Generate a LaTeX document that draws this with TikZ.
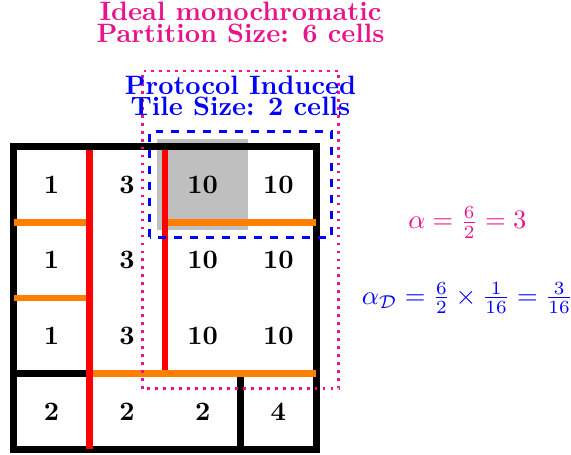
\documentclass[tikz,border=0pt]{standalone}
\usepackage{amsmath}
\usepackage{amssymb}
\usepackage{tikz}
\usetikzlibrary{positioning}
\usetikzlibrary{calc}
\definecolor{rosa}{RGB}{232,20,140}
\definecolor{arancio}{RGB}{255,128,0}

\begin{document}
\begin{tikzpicture}[
    bordo/.style={line width=2.7pt, black},
    taglio/.style={line width=2.5pt, red},
    giunto/.style={line width=2.5pt, arancio},
    cella/.style={font=\bfseries},
    titolo/.style={font=\bfseries, align=center, inner sep=0pt}]
    \useasboundingbox (-0.18,-0.07) rectangle (7.37,5.94);

    % Cella evidenziata
    \fill[gray!50] (1.9,2.9) rectangle (3.1,4.1);

    % Griglia
    \draw[bordo] (0,0) rectangle (4,4);
    \draw[bordo] (0,1) -- (4,1);
    \draw[bordo] (3,0) -- (3,1);

    % Linee arancioni
    \draw[giunto] (0,3) -- (1,3);
    \draw[giunto] (0,2) -- (1,2);
    \draw[giunto] (2,3) -- (4,3);
    \draw[giunto] (1,1) -- (4,1);

    % Linee rosse
    \draw[taglio] (1,0) -- (1,3.95);
    \draw[taglio] (2,1.05) -- (2,3.95);

    % Valori delle celle
    \foreach \y/\r in {3.5/1,2.5/2,1.5/3} {
      \node[cella] (c\r1) at (0.5,\y) {1};
      \node[cella] (c\r2) at (1.5,\y) {3};
      \node[cella] (c\r3) at (2.5,\y) {10};
      \node[cella] (c\r4) at (3.5,\y) {10};
    }
    \node[cella] (c41) at (0.5,0.5) {2};
    \node[cella] (c42) at (1.5,0.5) {2};
    \node[cella] (c43) at (2.5,0.5) {2};
    \node[cella] (c44) at (3.5,0.5) {4};

    % Riquadri
    \draw[blue, dashed, line width=1.2pt] (1.8,2.8) rectangle (4.2,4.2);
    \draw[rosa, dotted, line width=1pt] (1.7,0.8) rectangle (4.3,5.0);

    % Etichette
    \node[titolo, text=rosa] (ideale) at (3,5.64)
      {Ideal monochromatic\\[-3.9pt] Partition Size: 6 cells};
    \node[titolo, text=blue] (tile) at (3,4.67)
      {Protocol Induced\\[-3.9pt] Tile Size: 2 cells};
    \node[text=rosa] (alfa) at (6,3) {$\alpha = \frac{6}{2} = 3$};
    \node[text=blue] (alfad) at (6,2)
      {$\alpha_{\mathcal{D}} = \frac{6}{2} \times \frac{1}{16} = \frac{3}{16}$};
\end{tikzpicture}
\end{document}
